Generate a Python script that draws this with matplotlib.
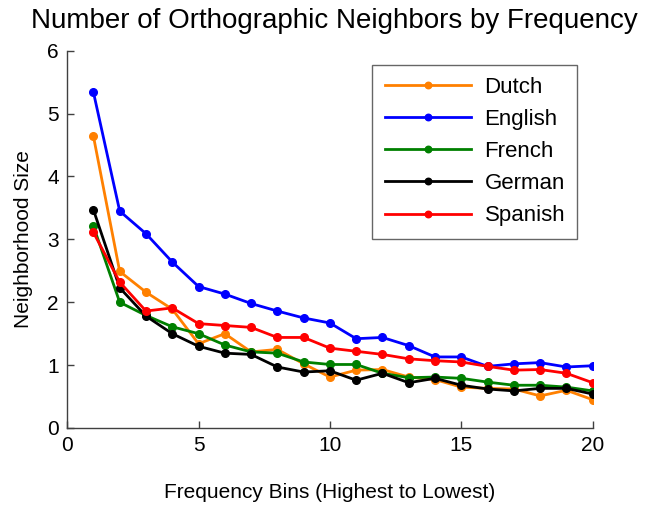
import numpy as np
import matplotlib
matplotlib.use("Agg")
import matplotlib.pyplot as plt

# frequency bins 1..20
bins = np.arange(1, 21)

dutch = [4.64, 2.49, 2.16, 1.89, 1.34, 1.50, 1.21, 1.25, 1.02, 0.81,
         0.92, 0.93, 0.81, 0.77, 0.65, 0.63, 0.62, 0.51, 0.60, 0.45]
english = [5.34, 3.45, 3.09, 2.64, 2.25, 2.13, 1.98, 1.86, 1.75, 1.67,
           1.42, 1.44, 1.31, 1.13, 1.13, 0.98, 1.02, 1.04, 0.97, 0.99]
french = [3.21, 2.00, 1.79, 1.61, 1.50, 1.32, 1.21, 1.19, 1.05, 1.01,
          1.01, 0.87, 0.80, 0.81, 0.79, 0.73, 0.68, 0.68, 0.65, 0.59]
german = [3.47, 2.23, 1.78, 1.50, 1.30, 1.19, 1.17, 0.97, 0.89, 0.91,
          0.76, 0.87, 0.72, 0.79, 0.68, 0.62, 0.59, 0.63, 0.63, 0.54]
spanish = [3.11, 2.32, 1.86, 1.91, 1.66, 1.63, 1.60, 1.44, 1.44, 1.27,
           1.22, 1.17, 1.10, 1.07, 1.05, 0.98, 0.92, 0.93, 0.87, 0.72]

series = [
    ("Dutch", dutch, "#ff8000"),
    ("English", english, "#0000ff"),
    ("French", french, "#008000"),
    ("German", german, "#000000"),
    ("Spanish", spanish, "#ff0000"),
]

plt.rcParams.update({
    "font.family": ["Liberation Sans", "DejaVu Sans"],
    "font.size": 15,
})

fig = plt.figure(figsize=(6.52, 5.05), dpi=100)
ax = fig.add_axes([0.103, 0.1525, 0.806, 0.747])

for name, vals, col in series:
    ax.plot(bins, vals, color=col, linewidth=2.0, marker="o", markersize=5.5,
            label=name)

ax.set_xlim(0, 20)
ax.set_ylim(0, 6)
ax.set_xticks([0, 5, 10, 15, 20])
ax.set_yticks(range(0, 7))
ax.tick_params(direction="in", length=5, width=1, color="#404040", labelsize=15, pad=6)

for s in ["top", "right"]:
    ax.spines[s].set_visible(False)
for s in ["left", "bottom"]:
    ax.spines[s].set_color("#404040")
    ax.spines[s].set_linewidth(1.0)

ax.set_xlabel("Frequency Bins (Highest to Lowest)", fontsize=15, labelpad=20)
ax.set_ylabel("Neighborhood Size", fontsize=15, labelpad=10)
fig.text(0.513, 0.958, "Number of Orthographic Neighbors by Frequency",
         ha="center", va="center", fontsize=20)

leg = ax.legend(loc="upper right", bbox_to_anchor=(0.971, 0.963), fontsize=16,
                frameon=True, fancybox=False, handlelength=3.9, borderpad=0.55,
                labelspacing=0.5, handletextpad=0.6, borderaxespad=0,
                markerscale=0.85)
leg.get_frame().set_edgecolor("#404040")
leg.get_frame().set_linewidth(1.0)

fig.savefig("out.png", dpi=100)
